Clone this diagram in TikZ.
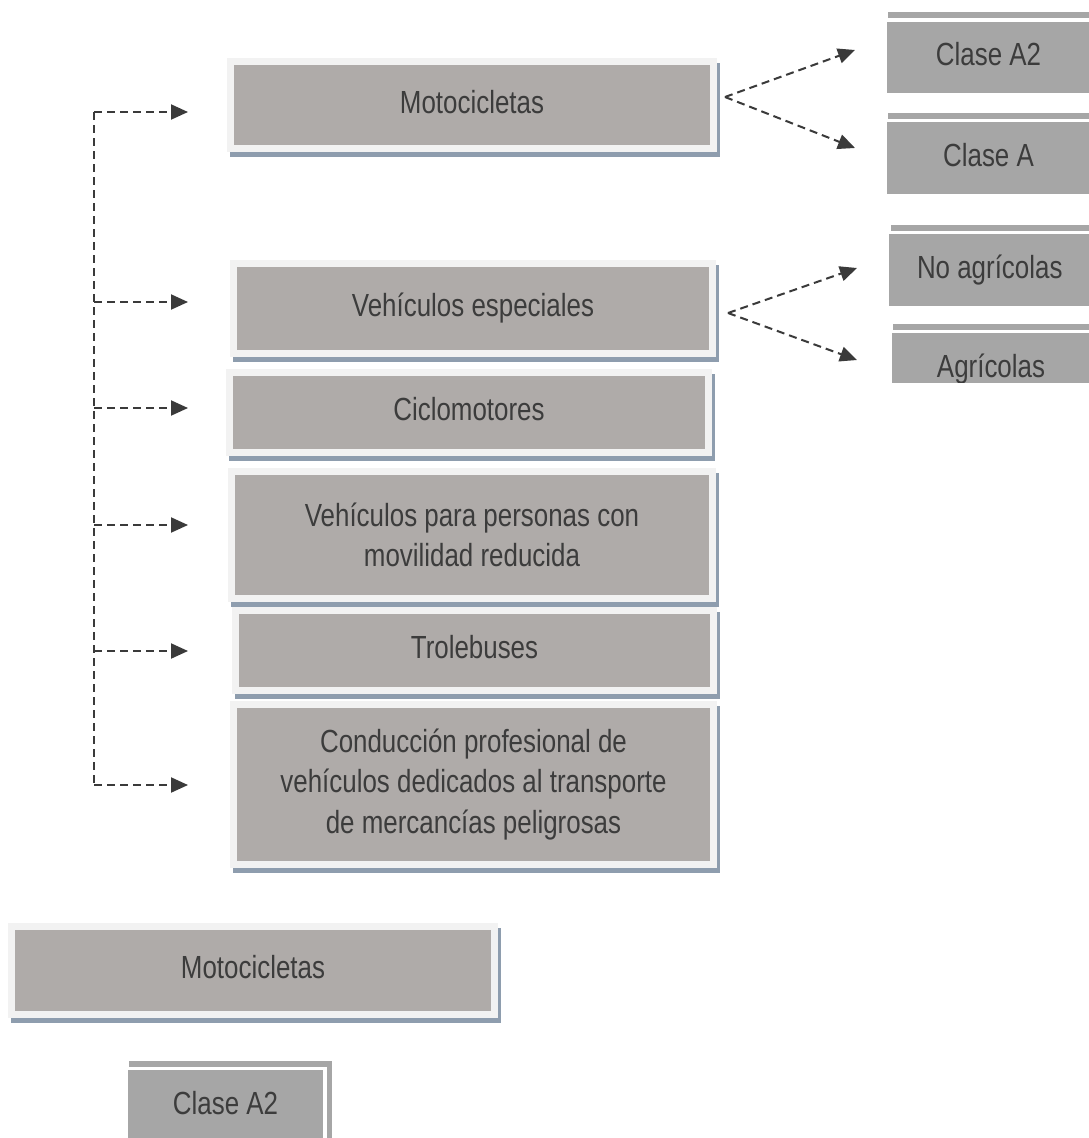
\documentclass[tikz,border=0pt]{standalone}
\usepackage{fontspec}
\setmainfont{Liberation Sans}[FakeStretch=0.81]
\usetikzlibrary{arrows.meta}
\definecolor{framecol}{HTML}{F2F2F2}
\definecolor{fillcol}{HTML}{AFABA9}
\definecolor{shadowcol}{HTML}{8E9DAE}
\definecolor{subfill}{HTML}{A6A6A6}
\definecolor{bandcol}{HTML}{A6A6A6}
\definecolor{textcol}{HTML}{3C3C3C}
\definecolor{linecol}{HTML}{3A3A3A}
\tikzset{
  boxfont/.style={font=\fontsize{32}{40.5}\selectfont, text=textcol, align=center},
  mainbox/.style={boxfont, draw=framecol, fill=fillcol, line width=7pt, inner sep=0pt, outer sep=0pt,
    preaction={draw=shadowcol, fill=shadowcol, line width=7pt, transform canvas={xshift=3pt,yshift=-5pt}}},
  oneline/.style={text height=23pt, text depth=7pt},
  subbox/.style={boxfont, oneline, draw=white, fill=subfill, line width=3.5pt, inner sep=0pt, outer sep=0pt,
    preaction={draw=bandcol, fill=bandcol, line width=3.5pt, transform canvas={xshift=5pt,yshift=6pt}}},
  dashline/.style={draw=linecol, line width=2pt, dash pattern=on 8pt off 5pt},
  conn/.style={dashline, -{Triangle[length=17pt,width=15pt]}},
}
\begin{document}
\begin{tikzpicture}[x=1pt,y=-1pt]
\clip (0,0) rectangle (1089,1138);
\fill[white] (0,0) rectangle (1089,1138);
% main boxes
\node[mainbox, oneline, minimum width=483pt, minimum height=87pt] (b1) at (472,105) {Motocicletas};
\node[mainbox, oneline, minimum width=479pt, minimum height=90pt] (b2) at (473,308.5) {Vehículos especiales};
\node[mainbox, oneline, minimum width=479pt, minimum height=80pt] (b3) at (469,412.5) {Ciclomotores};
\node[mainbox, minimum width=481pt, minimum height=127pt] (b4) at (472,535) {Vehículos para personas con\\movilidad reducida};
\node[mainbox, oneline, minimum width=478pt, minimum height=80pt] (b5) at (474.5,650.5) {Trolebuses};
\node[mainbox, minimum width=480pt, minimum height=160pt] (b6) at (473.5,784.5) {Conducción profesional de\\vehículos dedicados al transporte\\de mercancías peligrosas};
\node[mainbox, oneline, minimum width=483pt, minimum height=88pt] (b7) at (253,970.5) {Motocicletas};
% sub boxes
\node[subbox, minimum width=207pt, minimum height=75pt] (s1) at (988.5,57.5) {Clase A2};
\node[subbox, minimum width=207pt, minimum height=75pt] (s2) at (988.5,158) {Clase A};
\node[subbox, minimum width=204.5pt, minimum height=75pt] (s3) at (989.75,270) {No agrícolas};
\begin{scope}
\clip (870,300) rectangle (1089,382);
\node[subbox, minimum width=202pt, minimum height=75pt] (s4) at (991,369) {Agrícolas};
\end{scope}
\node[subbox, minimum width=199pt, minimum height=75pt] (s5) at (225.5,1106) {Clase A2};
% trunk
\coordinate (t1) at (94,112);
\coordinate (t2) at (94,302);
\coordinate (t3) at (94,408);
\coordinate (t4) at (94,525);
\coordinate (t5) at (94,651);
\coordinate (t6) at (94,785);
\draw[dashline] (t1) -- (t6);
\draw[conn, shorten >=42.5pt] (t1) -- (t1 -| b1.west);
\draw[conn, shorten >=45.5pt] (t2) -- (t2 -| b2.west);
\draw[conn, shorten >=41.5pt] (t3) -- (t3 -| b3.west);
\draw[conn, shorten >=43.5pt] (t4) -- (t4 -| b4.west);
\draw[conn, shorten >=47.5pt] (t5) -- (t5 -| b5.west);
\draw[conn, shorten >=45.5pt] (t6) -- (t6 -| b6.west);
% right branches
\coordinate (p1) at (725,97);
\coordinate (p2) at (728,313);
\coordinate (q1) at (855,50);
\coordinate (q2) at (855,148);
\coordinate (q3) at (857,268);
\coordinate (q4) at (857,360);
\draw[conn] (p1) -- (q1);
\draw[conn] (p1) -- (q2);
\draw[conn] (p2) -- (q3);
\draw[conn] (p2) -- (q4);
\end{tikzpicture}
\end{document}
